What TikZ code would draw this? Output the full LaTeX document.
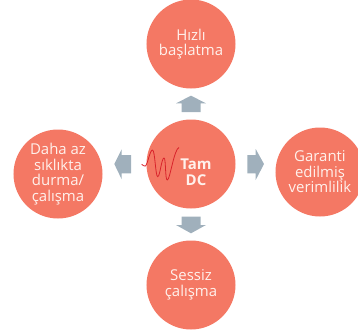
\documentclass[tikz,border=0pt]{standalone}
\usepackage{fontspec}
\setmainfont{Open Sans}
\definecolor{coral}{HTML}{F47864}
\definecolor{slate}{HTML}{A0B0BC}
\definecolor{wave}{HTML}{D8222A}
\definecolor{label}{HTML}{FFF1EC}
\tikzset{
  x=1bp,y=-1bp,
  disc/.style={circle,fill=coral,inner sep=0pt,minimum size=89bp,text=label,align=center,font=\fontsize{15}{15.6}\selectfont},
  blockarrow/.style={fill=slate,draw=none},
  trace/.style={draw=wave,line width=0.8pt,line join=round}
}
\begin{document}
\begin{tikzpicture}
\useasboundingbox (0,0) rectangle (358,335);
\node[disc] (top) at (191,44) {Hızlı\\başlatma};
\node[disc] (centre) at (191,164) {};
\node[disc] (left) at (58,174) {Daha az\\sıklıkta\\durma/\\çalışma};
\node[disc] (right) at (320,172) {Garanti\\edilmiş\\verimlilik};
\node[disc] (bottom) at (191,285) {Sessiz\\çalışma};
\node[text=label,align=center,font=\fontsize{15}{15.6}\selectfont\bfseries] (dc) at (196,172) {Tam\\DC};
\fill[blockarrow] (191,95.7) -- (206,103.3) -- (200.7,103.3) -- (200.7,112) -- (181.7,112) -- (181.7,103.3) -- (176,103.3) -- cycle;
\fill[blockarrow] (191,233.3) -- (206,225) -- (200.7,225) -- (200.7,216.7) -- (181.7,216.7) -- (181.7,225) -- (176,225) -- cycle;
\fill[blockarrow] (114.3,164) -- (121.7,149.3) -- (121.7,155) -- (131,155) -- (131,173.3) -- (121.7,173.3) -- (121.7,179.3) -- cycle;
\fill[blockarrow] (264,164) -- (255.7,149) -- (255.7,155) -- (247.3,155) -- (247.3,173.3) -- (255.7,173.3) -- (255.7,180) -- cycle;
\draw[trace] (141.7,164.3) .. controls (143,165) and (144.5,167) .. (145.5,166) .. controls (148,163) and (150,150) .. (152.5,150) .. controls (155,150) and (155.5,176.7) .. (157.7,176.7) .. controls (160,176.7) and (161.5,158) .. (164,158) .. controls (166,158) and (165,180) .. (167.3,180) .. controls (170,180) and (174,149) .. (179,147.5);
\end{tikzpicture}
\end{document}
